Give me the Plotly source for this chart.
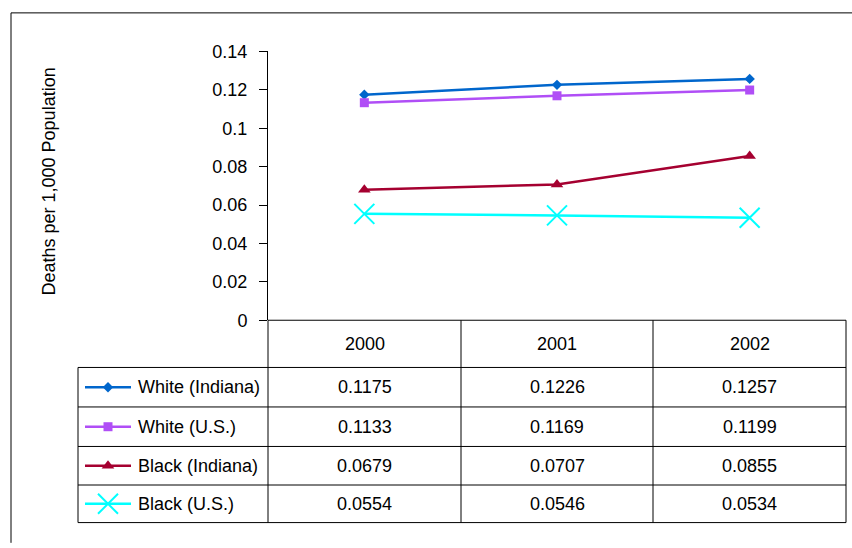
import plotly.graph_objects as go

years = ["2000", "2001", "2002"]
series_names = ["White (Indiana)", "White (U.S.)", "Black (Indiana)", "Black (U.S.)"]
white_indiana = [0.1175, 0.1226, 0.1257]
white_us = [0.1133, 0.1169, 0.1199]
black_indiana = [0.0679, 0.0707, 0.0855]
black_us = [0.0554, 0.0546, 0.0534]
y_ticks = [0, 0.02, 0.04, 0.06, 0.08, 0.1, 0.12, 0.14]
y_tick_labels = ["0", "0.02", "0.04", "0.06", "0.08", "0.1", "0.12", "0.14"]
y_title = "Deaths per 1,000 Population"

values = [white_indiana, white_us, black_indiana, black_us]
colors = ["#0066CC", "#B04EF6", "#A50030", "#00FFFF"]
symbols = ["diamond", "square", "triangle-up", "x-thin"]
sizes = [8, 9, 11, 20]

W, H = 852, 548
FONT = "Arial, 'Liberation Sans', sans-serif"


def X(px):
    return px / W


def Y(py):
    return 1 - py / H


# geometry (pixels)
plot_l, plot_r = 268, 846
plot_t, plot_b = 43, 322
leg_l = 78
row_edges = [322, 371, 412, 453, 493, 532]
col_edges = [268, 461, 653, 846]

fig = go.Figure()

xs = list(range(len(years)))
for name, vals, c, s, sz in zip(series_names, values, colors, symbols, sizes):
    mk = dict(symbol=s, size=sz, color=c)
    if s == "x-thin":
        mk["line"] = dict(color=c, width=2)
    fig.add_trace(go.Scatter(
        x=xs, y=vals, mode="lines+markers", name=name,
        line=dict(color=c, width=2.5), marker=mk, showlegend=False,
        xaxis="x", yaxis="y", cliponaxis=False,
    ))

# legend samples inside table (pixel overlay axes)
for i, (name, c, s, sz) in enumerate(zip(series_names, colors, symbols, sizes)):
    cy = (row_edges[i + 1] + row_edges[i + 2]) / 2
    mk = dict(symbol=s, size=sz, color=c)
    if s == "x-thin":
        mk["line"] = dict(color=c, width=2)
    fig.add_trace(go.Scatter(
        x=[85, 131], y=[cy, cy], mode="lines", line=dict(color=c, width=2.5),
        showlegend=False, xaxis="x2", yaxis="y2", hoverinfo="skip",
    ))
    fig.add_trace(go.Scatter(
        x=[108], y=[cy], mode="markers", marker=mk,
        showlegend=False, xaxis="x2", yaxis="y2", hoverinfo="skip",
    ))

shapes = []
line_style = dict(color="black", width=1)
# outer frame (left and top)
shapes.append(dict(type="line", xref="paper", yref="paper", x0=X(11), x1=X(11), y0=Y(3), y1=Y(H + 5), line=line_style))
shapes.append(dict(type="line", xref="paper", yref="paper", x0=X(11), x1=X(W + 5), y0=Y(3), y1=Y(3), line=line_style))
# table horizontal lines
for k, ry in enumerate(row_edges):
    x0 = plot_l if k == 0 else leg_l
    shapes.append(dict(type="line", xref="paper", yref="paper", x0=X(x0), x1=X(plot_r), y0=Y(ry), y1=Y(ry), line=line_style))
# table vertical lines
shapes.append(dict(type="line", xref="paper", yref="paper", x0=X(leg_l), x1=X(leg_l), y0=Y(row_edges[1]), y1=Y(row_edges[-1]), line=line_style))
for cx in col_edges:
    shapes.append(dict(type="line", xref="paper", yref="paper", x0=X(cx), x1=X(cx), y0=Y(row_edges[0]), y1=Y(row_edges[-1]), line=line_style))

annotations = []
tfont = dict(family=FONT, size=18, color="black")
# header
for j, yr in enumerate(years):
    cx = (col_edges[j] + col_edges[j + 1]) / 2
    cy = (row_edges[0] + row_edges[1]) / 2
    annotations.append(dict(text=yr, x=X(cx), y=Y(cy), xref="paper", yref="paper", showarrow=False, font=tfont, xanchor="center", yanchor="middle"))
# data cells and legend labels
for i, (name, vals) in enumerate(zip(series_names, values)):
    cy = (row_edges[i + 1] + row_edges[i + 2]) / 2
    annotations.append(dict(text=name, x=X(136), y=Y(cy), xref="paper", yref="paper", showarrow=False, font=tfont, xanchor="left", yanchor="middle"))
    for j, v in enumerate(vals):
        cx = (col_edges[j] + col_edges[j + 1]) / 2
        annotations.append(dict(text=f"{v:.4f}", x=X(cx), y=Y(cy), xref="paper", yref="paper", showarrow=False, font=tfont, xanchor="center", yanchor="middle"))
# y title
annotations.append(dict(text=y_title, x=X(49), y=Y(178), xref="paper", yref="paper", showarrow=False, font=tfont, textangle=-90, xanchor="center", yanchor="middle"))

fig.update_layout(
    width=W, height=H,
    margin=dict(l=0, r=0, t=0, b=0),
    paper_bgcolor="white", plot_bgcolor="rgba(0,0,0,0)",
    font=dict(family=FONT, size=18, color="black"),
    xaxis=dict(domain=[X(plot_l), X(plot_r)], range=[-0.5, len(years) - 0.5],
               showticklabels=False, ticks="", showgrid=False, zeroline=False, showline=False, fixedrange=True),
    yaxis=dict(domain=[Y(plot_b), Y(plot_t)], range=[0, 0.14], tickvals=y_ticks, ticktext=y_tick_labels,
               ticks="outside", ticklen=8, tickcolor="black", tickwidth=1, ticklabelstandoff=8,
               showline=True, linecolor="black", linewidth=1, showgrid=False, zeroline=False,
               tickfont=dict(family=FONT, size=18, color="black")),
    xaxis2=dict(domain=[0, 1], range=[0, W], visible=False, anchor="y2"),
    yaxis2=dict(domain=[0, 1], range=[H, 0], visible=False, anchor="x2"),
    shapes=shapes,
    annotations=annotations,
    showlegend=False,
)

fig.write_html(
    "out.html",
    config={"displayModeBar": False},
    post_script="document.body.style.margin='0';document.body.style.overflow='hidden';",
)
